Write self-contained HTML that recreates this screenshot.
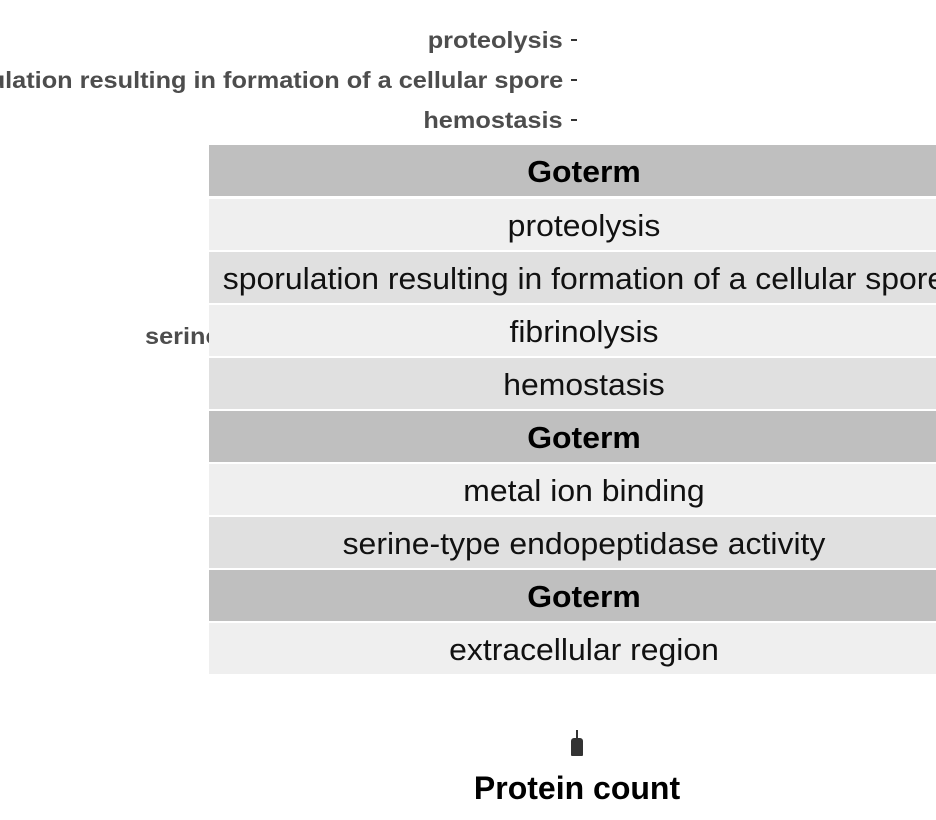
<!DOCTYPE html>
<html><head><meta charset="utf-8"><style>
body{margin:0;width:936px;height:820px;background:#fff;position:relative;overflow:hidden;font-family:"Liberation Sans",sans-serif}
.lab{position:absolute;right:373px;font-weight:bold;font-size:23px;color:#4d4d4d;white-space:nowrap;line-height:24px;transform:scaleX(1.1);transform-origin:100% 50%}
.tick{position:absolute;left:571px;width:6px;height:2px;background:#333}
.row{position:absolute;left:209px;width:760px;height:51px;text-align:center;font-size:31px;line-height:53px;color:#111;white-space:nowrap}
.row span{position:absolute;left:0;width:750px;text-align:center;transform:scaleX(1.03);transform-origin:375px 50%}
.h{background:#bfbfbf;font-weight:bold;color:#000}
.l{background:#efefef}
.d{background:#e0e0e0}
</style></head><body>
<div class="lab" style="top:28px">proteolysis</div>
<div class="lab" style="top:68px">sporulation resulting in formation of a cellular spore</div>
<div class="lab" style="top:108px">hemostasis</div>
<div class="tick" style="top:39px"></div>
<div class="tick" style="top:79px"></div>
<div class="tick" style="top:119px"></div>
<div class="lab" style="top:324px;left:145px;right:auto;transform-origin:0 50%">serine-type</div>

<div class="row h" style="top:145px"><span>Goterm</span></div>
<div class="row l" style="top:199px"><span>proteolysis</span></div>
<div class="row d" style="top:252px"><span>sporulation resulting in formation of a cellular spore</span></div>
<div class="row l" style="top:305px"><span>fibrinolysis</span></div>
<div class="row d" style="top:358px"><span>hemostasis</span></div>
<div class="row h" style="top:411px"><span>Goterm</span></div>
<div class="row l" style="top:464px"><span>metal ion binding</span></div>
<div class="row d" style="top:517px"><span>serine-type endopeptidase activity</span></div>
<div class="row h" style="top:570px"><span>Goterm</span></div>
<div class="row l" style="top:623px"><span>extracellular region</span></div>

<div style="position:absolute;left:576px;top:730px;width:2px;height:10px;background:#333"></div>
<div style="position:absolute;left:571px;top:738px;width:12px;height:18px;background:#333;border-radius:3px 3px 1px 1px"></div>
<div style="position:absolute;left:0;width:1154px;top:770px;text-align:center;font-weight:bold;font-size:32px;color:#000">Protein count</div>
</body></html>
